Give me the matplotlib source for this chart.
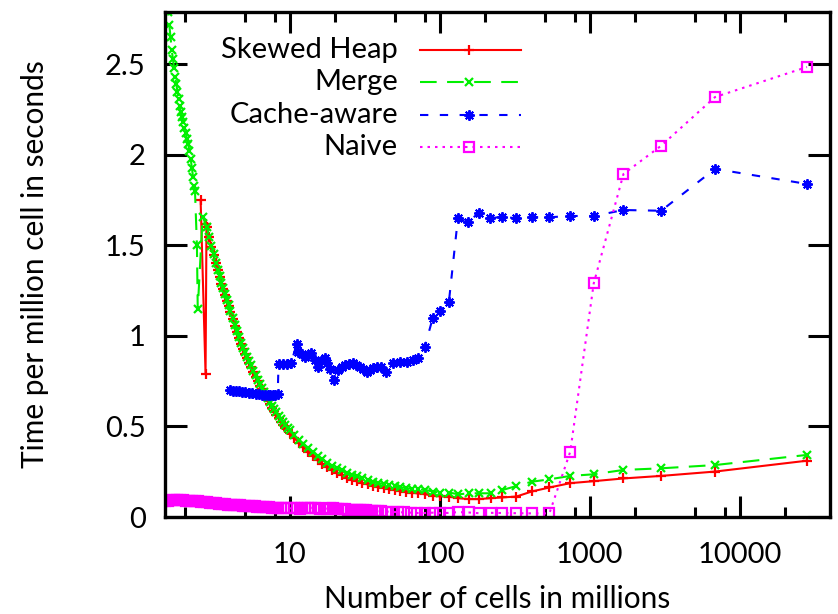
import matplotlib
matplotlib.use('Agg')
import matplotlib.pyplot as plt
from matplotlib.lines import Line2D

plt.rcParams['font.family'] = ['Lato', 'DejaVu Sans']

# ── Data (cells in millions, time per million cells in seconds) ──
cells_dense = [2.8, 2.9, 3.0, 3.1, 3.2, 3.3, 3.4, 3.5, 3.6, 3.7, 3.8, 3.9, 4.0,
               4.15, 4.3, 4.45, 4.6, 4.75, 4.9, 5.05, 5.2, 5.35, 5.5, 5.7, 5.9,
               6.1, 6.3, 6.5, 6.7, 6.9, 7.1, 7.35, 7.6, 7.85, 8.1, 8.4, 8.7,
               9.0, 9.3, 9.65, 10, 10.7, 11.5, 12.3, 13.2, 14.2, 15.3, 16.5,
               17.8, 19.2, 20.7, 22.3, 24, 26, 28, 30.5, 33, 36, 39, 42.5, 46,
               50, 54.5, 59.5, 65, 72]
cells_sparse = [79.6, 90.5, 101, 116, 133, 156, 182, 218, 261, 324, 411, 538,
                741, 1063, 1678, 2992, 6844, 28070]

heap_x_start = [2.54, 2.74, 2.78]
heap_y_start = [1.75, 0.79, 1.62]
heap_dense = [1.600, 1.545, 1.494, 1.448, 1.402, 1.362, 1.324, 1.289, 1.258,
              1.224, 1.194, 1.163, 1.134, 1.093, 1.054, 1.020, 0.989, 0.957,
              0.928, 0.901, 0.877, 0.852, 0.830, 0.801, 0.775, 0.750, 0.726,
              0.705, 0.684, 0.664, 0.645, 0.624, 0.604, 0.585, 0.566, 0.546,
              0.527, 0.510, 0.494, 0.478, 0.463, 0.436, 0.410, 0.385, 0.360,
              0.336, 0.313, 0.293, 0.274, 0.258, 0.243, 0.230, 0.218, 0.207,
              0.197, 0.188, 0.180, 0.172, 0.166, 0.160, 0.155, 0.150, 0.145,
              0.140, 0.135, 0.130]
heap_sparse = [0.126, 0.117, 0.114, 0.112, 0.104, 0.099, 0.099, 0.104, 0.108,
               0.113, 0.141, 0.163, 0.187, 0.198, 0.213, 0.227, 0.251, 0.311]

merge_x_start = [1.45, 1.48, 1.51, 1.54, 1.57, 1.60, 1.63, 1.66, 1.69, 1.72,
                 1.75, 1.78, 1.81, 1.84, 1.87, 1.90, 1.94, 1.98, 2.02, 2.06,
                 2.10, 2.14, 2.18, 2.22, 2.26, 2.30, 2.33, 2.40, 2.43, 2.62]
merge_y_start = [2.95, 2.89, 2.84, 2.79, 2.72, 2.65, 2.58, 2.53, 2.48, 2.43,
                 2.39, 2.35, 2.31, 2.27, 2.24, 2.21, 2.18, 2.15, 2.12, 2.09,
                 2.06, 2.02, 1.98, 1.93, 1.88, 1.83, 1.80, 1.50, 1.15, 1.66]
merge_dense = [1.600, 1.548, 1.497, 1.452, 1.406, 1.367, 1.329, 1.294, 1.264,
               1.230, 1.200, 1.169, 1.140, 1.099, 1.060, 1.027, 0.996, 0.964,
               0.935, 0.909, 0.885, 0.860, 0.838, 0.809, 0.783, 0.759, 0.735,
               0.714, 0.693, 0.674, 0.655, 0.635, 0.615, 0.596, 0.578, 0.559,
               0.540, 0.523, 0.508, 0.490, 0.478, 0.452, 0.428, 0.404, 0.380,
               0.357, 0.337, 0.318, 0.300, 0.284, 0.270, 0.257, 0.245, 0.234,
               0.224, 0.214, 0.205, 0.196, 0.188, 0.181, 0.175, 0.170, 0.165,
               0.160, 0.156, 0.152]
merge_sparse = [0.150, 0.140, 0.134, 0.135, 0.125, 0.131, 0.131, 0.131, 0.149,
                0.171, 0.195, 0.208, 0.227, 0.236, 0.260, 0.269, 0.287, 0.343]

cache_x = [4.0, 4.2, 4.4, 4.6, 4.8, 5.0, 5.3, 5.6, 5.9, 6.2, 6.5, 6.8, 7.1, 7.4,
           7.7, 8.0, 8.3,
           8.4, 9.0, 9.6, 10.2, 11.1, 11.4, 12.0, 12.6, 13.2, 13.9, 14.6, 15.4,
           16.2, 17.1, 17.8, 18.5, 19.6, 21.0, 22.2, 23.3, 24.8, 26.4, 27.8,
           29.3, 30.9, 32.5, 34.2, 35.9, 38.3, 40.8, 44.1, 48.8, 54.1, 60.0,
           66.4, 71.7,
           79.4, 89.6, 101, 115, 132, 154, 182, 215, 261, 324, 411, 538, 741,
           1063, 1678, 2992, 6844, 28070]
cache_y = [0.700, 0.698, 0.696, 0.695, 0.690, 0.688, 0.685, 0.683, 0.680, 0.678,
           0.676, 0.674, 0.673, 0.675, 0.672, 0.676, 0.678,
           0.845, 0.848, 0.846, 0.852, 0.955, 0.913, 0.900, 0.886, 0.895, 0.904,
           0.870, 0.830, 0.860, 0.877, 0.850, 0.820, 0.757, 0.812, 0.830, 0.840,
           0.845, 0.849, 0.840, 0.830, 0.815, 0.803, 0.810, 0.822, 0.830, 0.830,
           0.803, 0.853, 0.858, 0.858, 0.867, 0.877,
           0.940, 1.098, 1.140, 1.190, 1.650, 1.628, 1.681, 1.650, 1.659, 1.650,
           1.656, 1.656, 1.663, 1.663, 1.696, 1.692, 1.923, 1.840]

naive_x_dense = [1.40, 1.47, 1.54, 1.61, 1.68, 1.76, 1.84, 1.93, 2.02, 2.12,
                 2.22, 2.32, 2.43, 2.54, 2.66, 2.79, 2.92, 3.06, 3.20, 3.35,
                 3.51, 3.67, 3.84, 4.02, 4.21, 4.41, 4.62, 4.84, 5.06, 5.30,
                 5.55, 5.81, 6.08, 6.37, 6.67, 6.98, 7.31, 7.65, 8.01, 8.39,
                 8.78, 9.19, 9.63, 10.1, 10.6, 11.1, 11.6, 12.1, 12.7, 13.3,
                 13.9, 14.6, 15.3, 16.0, 16.8, 17.6, 18.4, 19.3, 20.2, 21.1,
                 22.1, 23.2, 24.3, 25.4, 26.6, 27.9, 29.2, 30.6, 32.0, 33.5,
                 35.1, 36.8, 38.5, 40.3, 44, 48, 53, 58, 64, 70]
naive_y_dense = [0.086, 0.089, 0.091, 0.093, 0.093, 0.093, 0.093, 0.092, 0.091,
                 0.090, 0.088, 0.087, 0.086, 0.084, 0.083, 0.082, 0.080, 0.078,
                 0.076, 0.074, 0.072, 0.071, 0.069, 0.068, 0.067, 0.066, 0.065,
                 0.063, 0.062, 0.061, 0.060, 0.059, 0.058, 0.057, 0.056, 0.055,
                 0.054, 0.052, 0.051, 0.050, 0.050, 0.049, 0.048, 0.048, 0.047,
                 0.047, 0.046, 0.048, 0.050, 0.052, 0.051, 0.049, 0.047, 0.046,
                 0.045, 0.046, 0.048, 0.047, 0.045, 0.044, 0.043, 0.042, 0.041,
                 0.040, 0.040, 0.039, 0.038, 0.037, 0.036, 0.035, 0.034, 0.033,
                 0.032, 0.031, 0.030, 0.028, 0.027, 0.025, 0.024, 0.022]
naive_sparse = [0.022, 0.024, 0.021, 0.023, 0.027, 0.025, 0.021, 0.023, 0.022,
                0.021, 0.020, 0.020, 0.361, 1.291, 1.895, 2.051, 2.320, 2.486]

x_major = [10, 100, 1000, 10000]
x_major_labels = ['10', '100', '1000', '10000']
x_minor = [2, 5, 8, 20, 50, 80, 200, 500, 800, 2000, 5000, 8000, 20000]
y_major = [0, 0.5, 1, 1.5, 2, 2.5]
y_major_labels = ['0', '0.5', '1', '1.5', '2', '2.5']

series = [
    ('Skewed Heap', heap_x_start + cells_dense + cells_sparse,
     heap_y_start + heap_dense + heap_sparse,
     dict(color='#ff0000', linestyle='-', marker='+', markersize=7,
          markeredgewidth=1.6)),
    ('Merge', merge_x_start + cells_dense + cells_sparse,
     merge_y_start + merge_dense + merge_sparse,
     dict(color='#00f000', linestyle=(0, (8, 5)), marker='x', markersize=6,
          markeredgewidth=1.6)),
    ('Cache-aware', cache_x, cache_y,
     dict(color='#0000ff', linestyle=(0, (4, 5.5)), marker=(8, 2, 0),
          markersize=7.5, markeredgewidth=1.4)),
    ('Naive', naive_x_dense + cells_sparse,
     naive_y_dense + naive_sparse,
     dict(color='#ff00ff', linestyle=(0, (1.2, 2.4)), marker='s',
          markersize=6.5, markerfacecolor='none', markeredgewidth=1.6)),
]

# ── Figure ──
fig = plt.figure(figsize=(8.38, 6.14), dpi=100)
ax = fig.add_axes([165 / 838, 97 / 614, 665 / 838, 505 / 614])

for name, xs, ys, style in series:
    ax.plot(xs, ys, linewidth=1.5, **style)

ax.set_xscale('log')
ax.set_xlim(1.47, 40000)
ax.set_ylim(0, 2.79)

ax.set_xticks(x_major)
ax.set_xticklabels(x_major_labels)
ax.set_xticks(x_minor, minor=True)
ax.set_yticks(y_major)
ax.set_yticklabels(y_major_labels)
ax.tick_params(which='both', direction='in', top=True, right=True, width=2.2,
               labelsize=21)
ax.tick_params(axis='x', which='major', length=15, pad=18)
ax.tick_params(axis='x', which='minor', length=7.5, labelbottom=False)
ax.tick_params(axis='y', which='major', length=16, pad=14)
ax.tick_params(axis='y', which='minor', length=0)
for sp in ax.spines.values():
    sp.set_linewidth(2.4)

ax.set_xlabel('Number of cells in millions', fontsize=21.5)
ax.xaxis.set_label_coords(0.5, -0.162)
ax.xaxis.label.set_va('center')
ax.set_ylabel('Time per million cell in seconds', fontsize=21.5)
ax.yaxis.set_label_coords(-0.195, 0.5)
ax.yaxis.label.set_va('center')

# ── Legend (gnuplot style: text right-aligned, sample on the right) ──
legend_y = [0.925, 0.861, 0.796, 0.733]
for (name, xs, ys, style), ly in zip(series, legend_y):
    ax.text(0.350, ly, name, transform=ax.transAxes, ha='right', va='center',
            fontsize=21)
    ax.add_line(Line2D([0.383, 0.535], [ly, ly], transform=ax.transAxes,
                       linewidth=1.5, **{k: v for k, v in style.items()
                                         if not k.startswith('marker')}))
    ax.add_line(Line2D([0.457], [ly], transform=ax.transAxes,
                       linestyle='none', color=style['color'],
                       **{k: v for k, v in style.items()
                          if k.startswith('marker')}))

fig.savefig('out.png', dpi=100)
